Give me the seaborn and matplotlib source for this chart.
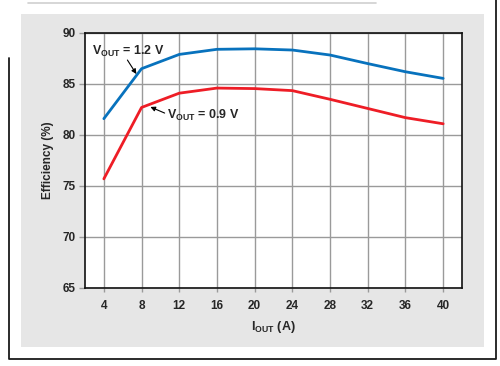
import matplotlib
matplotlib.use('Agg')
import matplotlib.pyplot as plt
from matplotlib.patches import Rectangle
from matplotlib.lines import Line2D
import seaborn as sns
import pandas as pd

# данные
iout = [4, 8, 12, 16, 20, 24, 28, 32, 36, 40]
eff_12 = [81.6, 86.5, 87.9, 88.4, 88.45, 88.33, 87.84, 87.0, 86.2, 85.55]
eff_09 = [75.7, 82.7, 84.1, 84.6, 84.55, 84.35, 83.5, 82.6, 81.7, 81.1]
series = ['1.2 V', '0.9 V']
colors = ['#0872BD', '#EE1D26']
x_ticks = [4, 8, 12, 16, 20, 24, 28, 32, 36, 40]
y_ticks = [65, 70, 75, 80, 85, 90]

df = pd.concat([
    pd.DataFrame({'iout': iout, 'eff': eff_12, 'vout': series[0]}),
    pd.DataFrame({'iout': iout, 'eff': eff_09, 'vout': series[1]}),
])

sns.set_style('white')
plt.rcParams['font.family'] = ['Liberation Sans', 'DejaVu Sans']
plt.rcParams['mathtext.fontset'] = 'custom'
plt.rcParams['mathtext.rm'] = 'Liberation Sans:bold'
plt.rcParams['mathtext.bf'] = 'Liberation Sans:bold'

W, H = 500, 366
fig = plt.figure(figsize=(5, 3.66), dpi=100, facecolor='white')


def fx(px):
    return px / W


def fy(py):
    return 1 - py / H


# серый фон-подложка и рамка
fig.patches.append(Rectangle((fx(21), fy(347)), fx(484) - fx(21), fy(14) - fy(347),
                             transform=fig.transFigure, facecolor='#E6E6E6',
                             edgecolor='none', zorder=-10))
fig.lines.append(Line2D([fx(28), fx(376)], [fy(3), fy(3)], transform=fig.transFigure,
                        color='#D0D0D0', lw=1.2, zorder=-10))
fig.lines.append(Line2D([fx(8.5), fx(8.5), fx(496), fx(496)],
                        [fy(58), fy(359), fy(359), fy(0)], transform=fig.transFigure,
                        color='#1A1A1A', lw=1.3, zorder=-10))

ax = fig.add_axes([fx(85), fy(288), fx(462) - fx(85), fy(33) - fy(288)])
ax.set_facecolor('white')

sns.lineplot(data=df, x='iout', y='eff', hue='vout', palette=colors,
             linewidth=2.0, legend=False, ax=ax)

ax.set_xlim(2, 42)
ax.set_ylim(65, 90)
ax.set_xticks(x_ticks)
ax.set_yticks(y_ticks)
ax.grid(True, color='#9A9A9A', lw=1.0)
ax.set_axisbelow(True)
for s in ax.spines.values():
    s.set_color('#111111')
    s.set_linewidth(1.2)
    s.set_visible(True)
ax.tick_params(axis='x', length=3, width=1, color='#9A9A9A', pad=5.5,
               labelsize=8.5, bottom=True)
ax.tick_params(axis='y', length=4, width=1, color='#9A9A9A', pad=3,
               labelsize=8.5, left=True)
for lab in ax.get_xticklabels() + ax.get_yticklabels():
    lab.set_fontweight('bold')

ax.set_xlabel(r'I$_\mathrm{OUT}$ (A)', fontsize=9, fontweight='bold', labelpad=5)
ax.set_ylabel('Efficiency (%)', fontsize=8.5, fontweight='bold', labelpad=6)

# подписи со стрелками
ax.text(2.7, 87.85, r'V$_\mathrm{OUT}$ = 1.2 V', fontsize=9, fontweight='bold',
        va='baseline', ha='left')
ax.annotate('', xy=(7.45, 85.98), xytext=(6.5, 87.35),
            arrowprops=dict(arrowstyle='-|>', color='black', lw=0.8,
                            mutation_scale=7, shrinkA=0, shrinkB=0))
ax.text(10.7, 81.57, r'V$_\mathrm{OUT}$ = 0.9 V', fontsize=9, fontweight='bold',
        va='baseline', ha='left')
ax.annotate('', xy=(8.94, 82.75), xytext=(10.45, 82.15),
            arrowprops=dict(arrowstyle='-|>', color='black', lw=0.8,
                            mutation_scale=7, shrinkA=0, shrinkB=0))

fig.savefig('out.png', dpi=100, facecolor='white')
